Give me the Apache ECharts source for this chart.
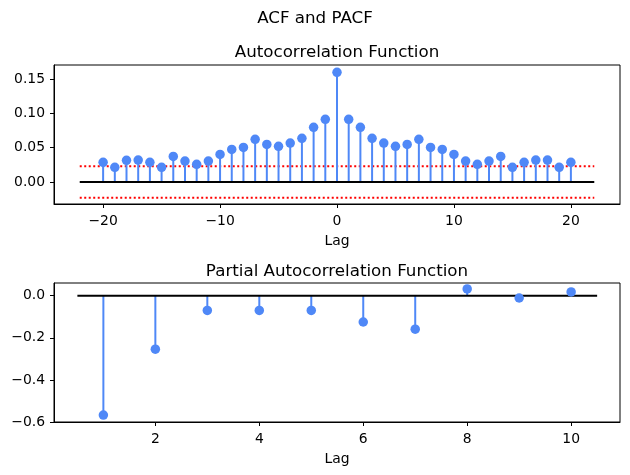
<!DOCTYPE html>
<html>
<head>
<meta charset="utf-8">
<script src="https://cdn.jsdelivr.net/npm/echarts@6/dist/echarts.min.js"></script>
<style>
html,body{margin:0;padding:0;background:#fff;}
#chart{width:630px;height:475px;}
</style>
</head>
<body>
<div id="chart"></div>
<script>
// ---- data ----
const acfLags = [-20,-19,-18,-17,-16,-15,-14,-13,-12,-11,-10,-9,-8,-7,-6,-5,-4,-3,-2,-1,0,1,2,3,4,5,6,7,8,9,10,11,12,13,14,15,16,17,18,19,20];
const acfValues = [0.0287,0.0214,0.0316,0.0321,0.0287,0.0214,0.0374,0.0306,0.0258,0.0306,0.0403,0.0476,0.0505,0.0622,0.0549,0.0520,0.0568,0.0637,0.0797,0.0914,0.1599,0.0914,0.0797,0.0637,0.0568,0.0520,0.0549,0.0622,0.0505,0.0476,0.0403,0.0306,0.0258,0.0306,0.0374,0.0214,0.0287,0.0321,0.0321,0.0214,0.0287];
const acfConf = 0.023;
const acfLineSpan = [-22, 22];
const pacfLags = [1,2,3,4,5,6,7,8,9,10];
const pacfValues = [-0.567,-0.254,-0.070,-0.070,-0.070,-0.125,-0.159,0.032,-0.011,0.018];
const pacfLineSpan = [0.5, 10.5];
const acfXTicks = [-20,-10,0,10,20];
const acfYTicks = [0,0.05,0.10,0.15];
const pacfXTicks = [2,4,6,8,10];
const pacfYTicks = [0,-0.2,-0.4,-0.6];

const BLUE = '#4F88F7';
const FONT = 'DejaVu Sans';
const TICK_FS = 13.9;
const TITLE_FONT = '16.7px "DejaVu Sans"';
const minus = s => String(s).replace('-', '\u2212');

const chart = echarts.init(document.getElementById('chart'), null, {renderer:'canvas'});

function stemSeries(xi, lags, vals){
  return {
    type:'custom', xAxisIndex:xi, yAxisIndex:xi, z:2,
    data: lags.map((l,i)=>[l, vals[i]]),
    renderItem: function(params, api){
      const p0 = api.coord([api.value(0), 0]);
      const p1 = api.coord([api.value(0), api.value(1)]);
      return {type:'line', shape:{x1:p0[0], y1:p0[1], x2:p1[0], y2:p1[1]},
              style:{stroke:BLUE, lineWidth:2}};
    },
    silent:true
  };
}
function markerSeries(xi, lags, vals){
  return {type:'scatter', xAxisIndex:xi, yAxisIndex:xi, z:4,
    symbol:'circle', symbolSize:9.5, itemStyle:{color:BLUE, opacity:1},
    data: lags.map((l,i)=>[l, vals[i]]), silent:true};
}
function hline(xi, span, y, color, width, type, z){
  return {type:'line', xAxisIndex:xi, yAxisIndex:xi, z:z, symbol:'none',
    lineStyle:{color:color, width:width, type:type},
    data: [[span[0], y],[span[1], y]], silent:true, animation:false};
}

const axisLabelStyle = {color:'#000', fontSize:TICK_FS, fontFamily:FONT};
const tickStyle = {show:true, length:4, lineStyle:{color:'#000', width:1}};

const option = {
  animation:false,
  backgroundColor:'#fff',
  textStyle:{fontFamily:FONT},
  graphic:[
    {type:'text', x:315, y:18.5, style:{text:'ACF and PACF', font:TITLE_FONT, fill:'#000', textAlign:'center', textVerticalAlign:'middle'}},
    {type:'text', x:337, y:52.5, style:{text:'Autocorrelation Function', font:TITLE_FONT, fill:'#000', textAlign:'center', textVerticalAlign:'middle'}},
    {type:'text', x:337, y:271.5, style:{text:'Partial Autocorrelation Function', font:TITLE_FONT, fill:'#000', textAlign:'center', textVerticalAlign:'middle'}}
  ],
  grid:[
    {left:54, top:65, width:566, height:139, show:true, borderColor:'#000', borderWidth:1, backgroundColor:'transparent', containLabel:false},
    {left:54, top:283, width:566, height:139, show:true, borderColor:'#000', borderWidth:1, backgroundColor:'transparent', containLabel:false}
  ],
  xAxis:[
    {type:'value', gridIndex:0, min:-24.2, max:24.2,
     name:'Lag', nameLocation:'middle', nameGap:30, nameTextStyle:{color:'#000', fontSize:TICK_FS, fontFamily:FONT},
     axisLine:{show:true, onZero:false, lineStyle:{color:'#000'}},
     axisTick:Object.assign({customValues:acfXTicks}, tickStyle),
     axisLabel:Object.assign({customValues:acfXTicks, margin:10, formatter:v=>minus(v)}, axisLabelStyle),
     splitLine:{show:false}},
    {type:'value', gridIndex:1, min:0.05, max:10.94,
     name:'Lag', nameLocation:'middle', nameGap:30, nameTextStyle:{color:'#000', fontSize:TICK_FS, fontFamily:FONT},
     axisLine:{show:true, onZero:false, lineStyle:{color:'#000'}},
     axisTick:Object.assign({customValues:pacfXTicks}, tickStyle),
     axisLabel:Object.assign({customValues:pacfXTicks, margin:10, formatter:v=>minus(v)}, axisLabelStyle),
     splitLine:{show:false}}
  ],
  yAxis:[
    {type:'value', gridIndex:0, min:-0.032, max:0.1706,
     axisLine:{show:true, onZero:false, lineStyle:{color:'#000'}},
     axisTick:Object.assign({customValues:acfYTicks}, tickStyle),
     axisLabel:Object.assign({customValues:acfYTicks, margin:9, formatter:v=>minus(v.toFixed(2))}, axisLabelStyle),
     splitLine:{show:false}},
    {type:'value', gridIndex:1, min:-0.6, max:0.0603,
     axisLine:{show:true, onZero:false, lineStyle:{color:'#000'}},
     axisTick:Object.assign({customValues:pacfYTicks}, tickStyle),
     axisLabel:Object.assign({customValues:pacfYTicks, margin:9, formatter:v=>minus(v.toFixed(1))}, axisLabelStyle),
     splitLine:{show:false}}
  ],
  series:[
    hline(0, acfLineSpan, acfConf, '#ff0000', 2, [2,2.5], 1),
    hline(0, acfLineSpan, -acfConf, '#ff0000', 2, [2,2.5], 1),
    stemSeries(0, acfLags, acfValues),
    hline(0, acfLineSpan, 0, '#000', 2, 'solid', 3),
    markerSeries(0, acfLags, acfValues),
    stemSeries(1, pacfLags, pacfValues),
    hline(1, pacfLineSpan, 0, '#000', 2, 'solid', 3),
    markerSeries(1, pacfLags, pacfValues)
  ]
};
chart.setOption(option);
</script>
</body>
</html>
